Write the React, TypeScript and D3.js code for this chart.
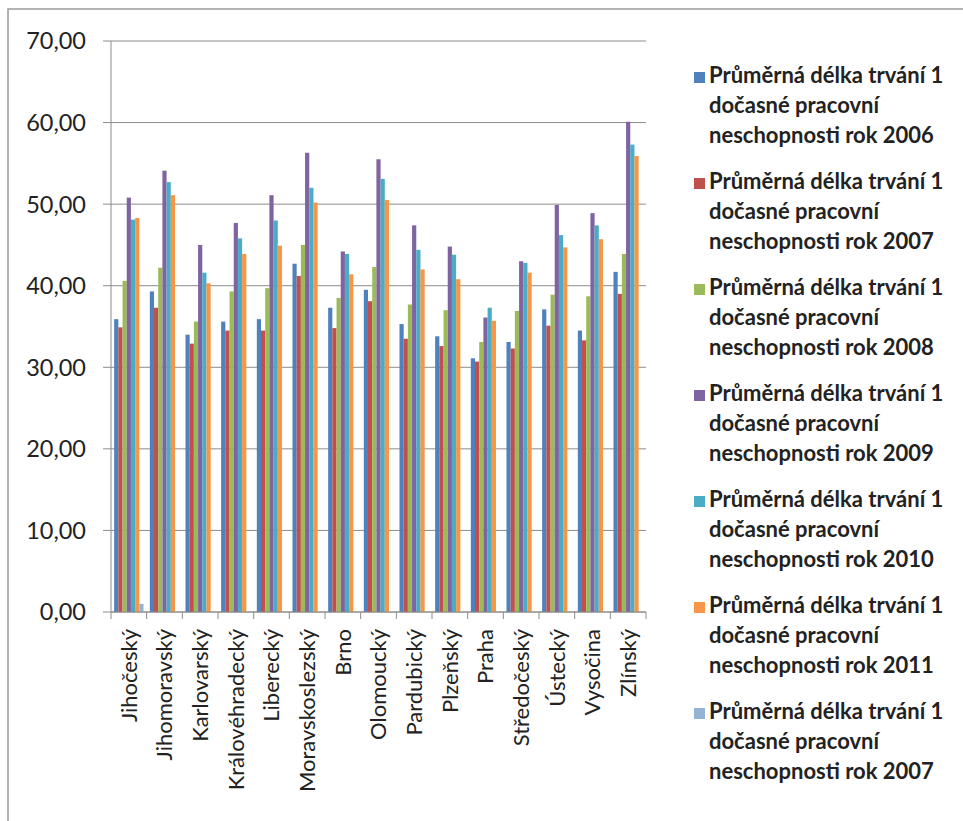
import React from "react";
import * as d3 from "d3";

const categories = [
  "Jihočeský", "Jihomoravský", "Karlovarský", "Královéhradecký", "Liberecký",
  "Moravskoslezský", "Brno", "Olomoucký", "Pardubický", "Plzeňský", "Praha",
  "Středočeský", "Ústecký", "Vysočina", "Zlínský",
];

const seriesNames = [
  "rok 2006", "rok 2007", "rok 2008", "rok 2009", "rok 2010", "rok 2011", "rok 2007",
];

const colors = ["#4F81BD", "#C0504D", "#9BBB59", "#8064A2", "#4BACC6", "#F79646", "#95B3D7"];

const s2006 = [35.9, 39.3, 34.0, 35.6, 35.9, 42.7, 37.3, 39.5, 35.3, 33.8, 31.1, 33.1, 37.1, 34.5, 41.7];
const s2007 = [34.9, 37.3, 32.9, 34.5, 34.5, 41.2, 34.8, 38.1, 33.5, 32.6, 30.7, 32.3, 35.1, 33.3, 39.0];
const s2008 = [40.6, 42.2, 35.6, 39.3, 39.7, 45.0, 38.5, 42.3, 37.7, 37.0, 33.1, 36.9, 38.9, 38.7, 43.9];
const s2009 = [50.8, 54.1, 45.0, 47.7, 51.1, 56.3, 44.2, 55.5, 47.4, 44.8, 36.1, 43.0, 49.9, 48.9, 60.1];
const s2010 = [48.1, 52.7, 41.6, 45.8, 48.0, 52.0, 43.9, 53.1, 44.4, 43.8, 37.3, 42.8, 46.2, 47.4, 57.3];
const s2011 = [48.3, 51.1, 40.3, 43.9, 44.9, 50.2, 41.4, 50.5, 42.0, 40.8, 35.7, 41.6, 44.7, 45.7, 55.9];
const s2007b: (number | null)[] = [1.0, null, null, null, null, null, null, null, null, null, null, null, null, null, null];

const yTicks = [0, 10, 20, 30, 40, 50, 60, 70];

const allSeries: (number | null)[][] = [s2006, s2007, s2008, s2009, s2010, s2011, s2007b];

const W = 963;
const H = 821;
const plot = { left: 111, right: 646, top: 41, bottom: 612 };
const font = "Lato, 'Open Sans', sans-serif";

export default function App() {
  const x = d3.scaleBand<string>().domain(categories).range([plot.left, plot.right]).padding(0);
  const xi = d3
    .scaleBand<number>()
    .domain(d3.range(allSeries.length))
    .range([0, x.bandwidth()])
    .paddingInner(0)
    .paddingOuter(0.75);
  const y = d3.scaleLinear().domain([0, 70]).range([plot.bottom, plot.top]);
  const fmt = (v: number) => v.toFixed(2).replace(".", ",");

  const legendX = 694;
  const legendY0 = 83;
  const entryStep = 106;
  const lineStep = 30;

  return (
    <svg width={W} height={H} style={{ position: "absolute", left: 0, top: 0, background: "#fff" }}>
      <rect x={8} y={9} width={W + 20} height={H + 20} fill="#fff" stroke="#9a9a9a" strokeWidth={1.5} />
      {/* gridlines */}
      {yTicks.map((t) => (
        <g key={t}>
          <line x1={plot.left} x2={plot.right} y1={y(t)} y2={y(t)} stroke="#8c8c8c" strokeWidth={1} />
          <line x1={plot.left - 8} x2={plot.left} y1={y(t)} y2={y(t)} stroke="#8c8c8c" strokeWidth={1} />
          <text
            x={86}
            y={y(t)}
            dy="0.36em"
            textAnchor="end"
            fontFamily={font}
            fontSize={23.5}
            fill="#222"
          >
            {fmt(t)}
          </text>
        </g>
      ))}
      {/* bars */}
      {categories.map((c, ci) => (
        <g key={c} transform={`translate(${x(c)},0)`}>
          {allSeries.map((s, si) => {
            const v = s[ci];
            if (v == null) return null;
            return (
              <rect
                key={si}
                x={xi(si)}
                y={y(v)}
                width={xi.bandwidth()}
                height={y(0) - y(v)}
                fill={colors[si]}
              />
            );
          })}
        </g>
      ))}
      {/* axes */}
      <line x1={plot.left} x2={plot.left} y1={plot.top} y2={plot.bottom} stroke="#8c8c8c" strokeWidth={1} />
      <line x1={plot.left} x2={plot.right} y1={plot.bottom} y2={plot.bottom} stroke="#8c8c8c" strokeWidth={1} />
      {categories.map((c) => (
        <line
          key={"t" + c}
          x1={x(c)}
          x2={x(c)}
          y1={plot.bottom}
          y2={plot.bottom + 7}
          stroke="#8c8c8c"
        />
      ))}
      <line x1={plot.right} x2={plot.right} y1={plot.bottom} y2={plot.bottom + 7} stroke="#8c8c8c" />
      {categories.map((c) => {
        const cx = (x(c) as number) + x.bandwidth() / 2;
        return (
          <text
            key={"l" + c}
            transform={`translate(${cx},${plot.bottom + 17}) rotate(-90)`}
            textAnchor="end"
            dy="0.36em"
            fontFamily={font}
            fontSize={22}
            fill="#222"
          >
            {c}
          </text>
        );
      })}
      {/* legend */}
      {seriesNames.map((n, i) => {
        const by = legendY0 + i * entryStep;
        return (
          <g key={"lg" + i}>
            <rect x={legendX} y={by - 11} width={11} height={11} fill={colors[i]} />
            <text x={legendX + 15} y={by} fontFamily={font} fontSize={22} fontWeight={700} fill="#222">
              <tspan x={legendX + 15} y={by}>Průměrná délka trvání 1</tspan>
              <tspan x={legendX + 15} y={by + lineStep}>dočasné pracovní</tspan>
              <tspan x={legendX + 15} y={by + 2 * lineStep}>{"neschopnosti " + n}</tspan>
            </text>
          </g>
        );
      })}
    </svg>
  );
}
